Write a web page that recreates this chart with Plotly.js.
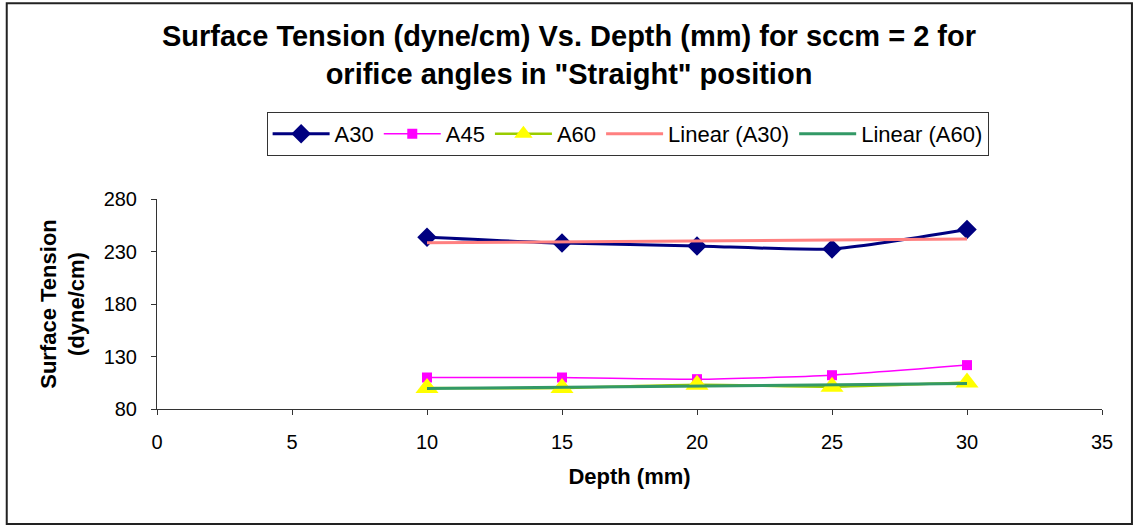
<!DOCTYPE html>
<html>
<head>
<meta charset="utf-8">
<script src="https://cdn.plot.ly/plotly-3.0.1.min.js"></script>
<style>html,body{margin:0;padding:0;background:#fff;}#chart{width:1138px;height:527px;}</style>
</head>
<body>
<div id="chart"></div>
<script>
// Data
const depth = [10, 15, 20, 25, 30];
const a30 = [243.6, 238.0, 235.3, 232.5, 251.0];
const a45 = [110.0, 110.0, 108.4, 112.2, 121.8];
const a60 = [100.0, 100.0, 103.0, 101.3, 105.2];
const xTicks = [0, 5, 10, 15, 20, 25, 30, 35];
const yTicks = [80, 130, 180, 230, 280];

// Least-squares linear trendline (like Excel's "Linear" trendline)
function linFit(xs, ys) {
  const n = xs.length;
  const mx = xs.reduce((a, b) => a + b, 0) / n;
  const my = ys.reduce((a, b) => a + b, 0) / n;
  let sxy = 0, sxx = 0;
  for (let i = 0; i < n; i++) { sxy += (xs[i] - mx) * (ys[i] - my); sxx += (xs[i] - mx) ** 2; }
  const m = sxy / sxx, c = my - m * mx;
  return xs.map(x => m * x + c);
}

const FONT = 'Liberation Sans, Arial, sans-serif';

const traces = [
  { x: depth, y: a30, name: 'A30', mode: 'lines+markers',
    line: { color: '#000080', width: 3, shape: 'spline', smoothing: 0.6 },
    marker: { symbol: 'diamond', size: 15, color: '#000080' } },
  { x: depth, y: a45, name: 'A45', mode: 'lines+markers',
    line: { color: '#FF00FF', width: 1.5, shape: 'spline', smoothing: 0.6 },
    marker: { symbol: 'square', size: 10, color: '#FF00FF' } },
  { x: depth, y: a60, name: 'A60', mode: 'lines+markers',
    line: { color: '#99CC00', width: 2.5, shape: 'spline', smoothing: 0.6 },
    marker: { symbol: 'triangle-up', size: 20, color: '#FFFF00' } },
  { x: depth, y: linFit(depth, a30), name: 'Linear (A30)', mode: 'lines',
    line: { color: '#FF8080', width: 3 } },
  { x: depth, y: linFit(depth, a60), name: 'Linear (A60)', mode: 'lines',
    line: { color: '#339966', width: 3 } }
];

const layout = {
  width: 1138, height: 527,
  paper_bgcolor: '#ffffff', plot_bgcolor: '#ffffff',
  font: { family: FONT, size: 20, color: '#000000' },
  margin: { l: 157, r: 36, t: 199, b: 118, pad: 0 },
  title: {
    text: 'Surface Tension (dyne/cm) Vs. Depth (mm) for sccm = 2 for<br>orifice angles in "Straight" position',
    font: { family: FONT, size: 29, weight: 'bold', color: '#000000' },
    x: 0.5, xanchor: 'center', xref: 'container',
    y: 0.912, yanchor: 'top', yref: 'container'
  },
  xaxis: {
    range: [0, 35], tickvals: xTicks, ticktext: xTicks.map(String),
    showline: true, linecolor: '#333333', linewidth: 1,
    ticks: 'outside', ticklen: 5, tickcolor: '#333333',
    showgrid: false, zeroline: false, ticklabelstandoff: 10,
    tickfont: { family: FONT, size: 20, color: '#000000' },
    title: { text: 'Depth (mm)', font: { family: FONT, size: 22, weight: 'bold' }, standoff: 16 }
  },
  yaxis: {
    range: [80, 280], tickvals: yTicks, ticktext: yTicks.map(String),
    showline: true, linecolor: '#333333', linewidth: 1,
    ticks: 'outside', ticklen: 5, tickcolor: '#333333',
    showgrid: false, zeroline: false, ticklabelstandoff: 10,
    tickfont: { family: FONT, size: 20, color: '#000000' },
    title: { text: 'Surface Tension<br>(dyne/cm)', font: { family: FONT, size: 22, weight: 'bold' }, standoff: 12 }
  },
  showlegend: true,
  legend: {
    orientation: 'h', x: 0.116, xanchor: 'left', y: 1.415, yanchor: 'top',
    bordercolor: '#333333', borderwidth: 1, bgcolor: '#ffffff',
    font: { family: FONT, size: 22, color: '#000000' },
    itemwidth: 57, traceorder: 'normal'
  },
  shapes: [
    { type: 'rect', xref: 'paper', yref: 'paper',
      x0: -0.159, x1: 1.0317, y0: -0.548, y1: 1.932,
      line: { color: '#222222', width: 2 }, fillcolor: 'rgba(0,0,0,0)', layer: 'above' }
  ]
};

Plotly.newPlot('chart', traces, layout, { displayModeBar: false, staticPlot: true });
</script>
</body>
</html>
